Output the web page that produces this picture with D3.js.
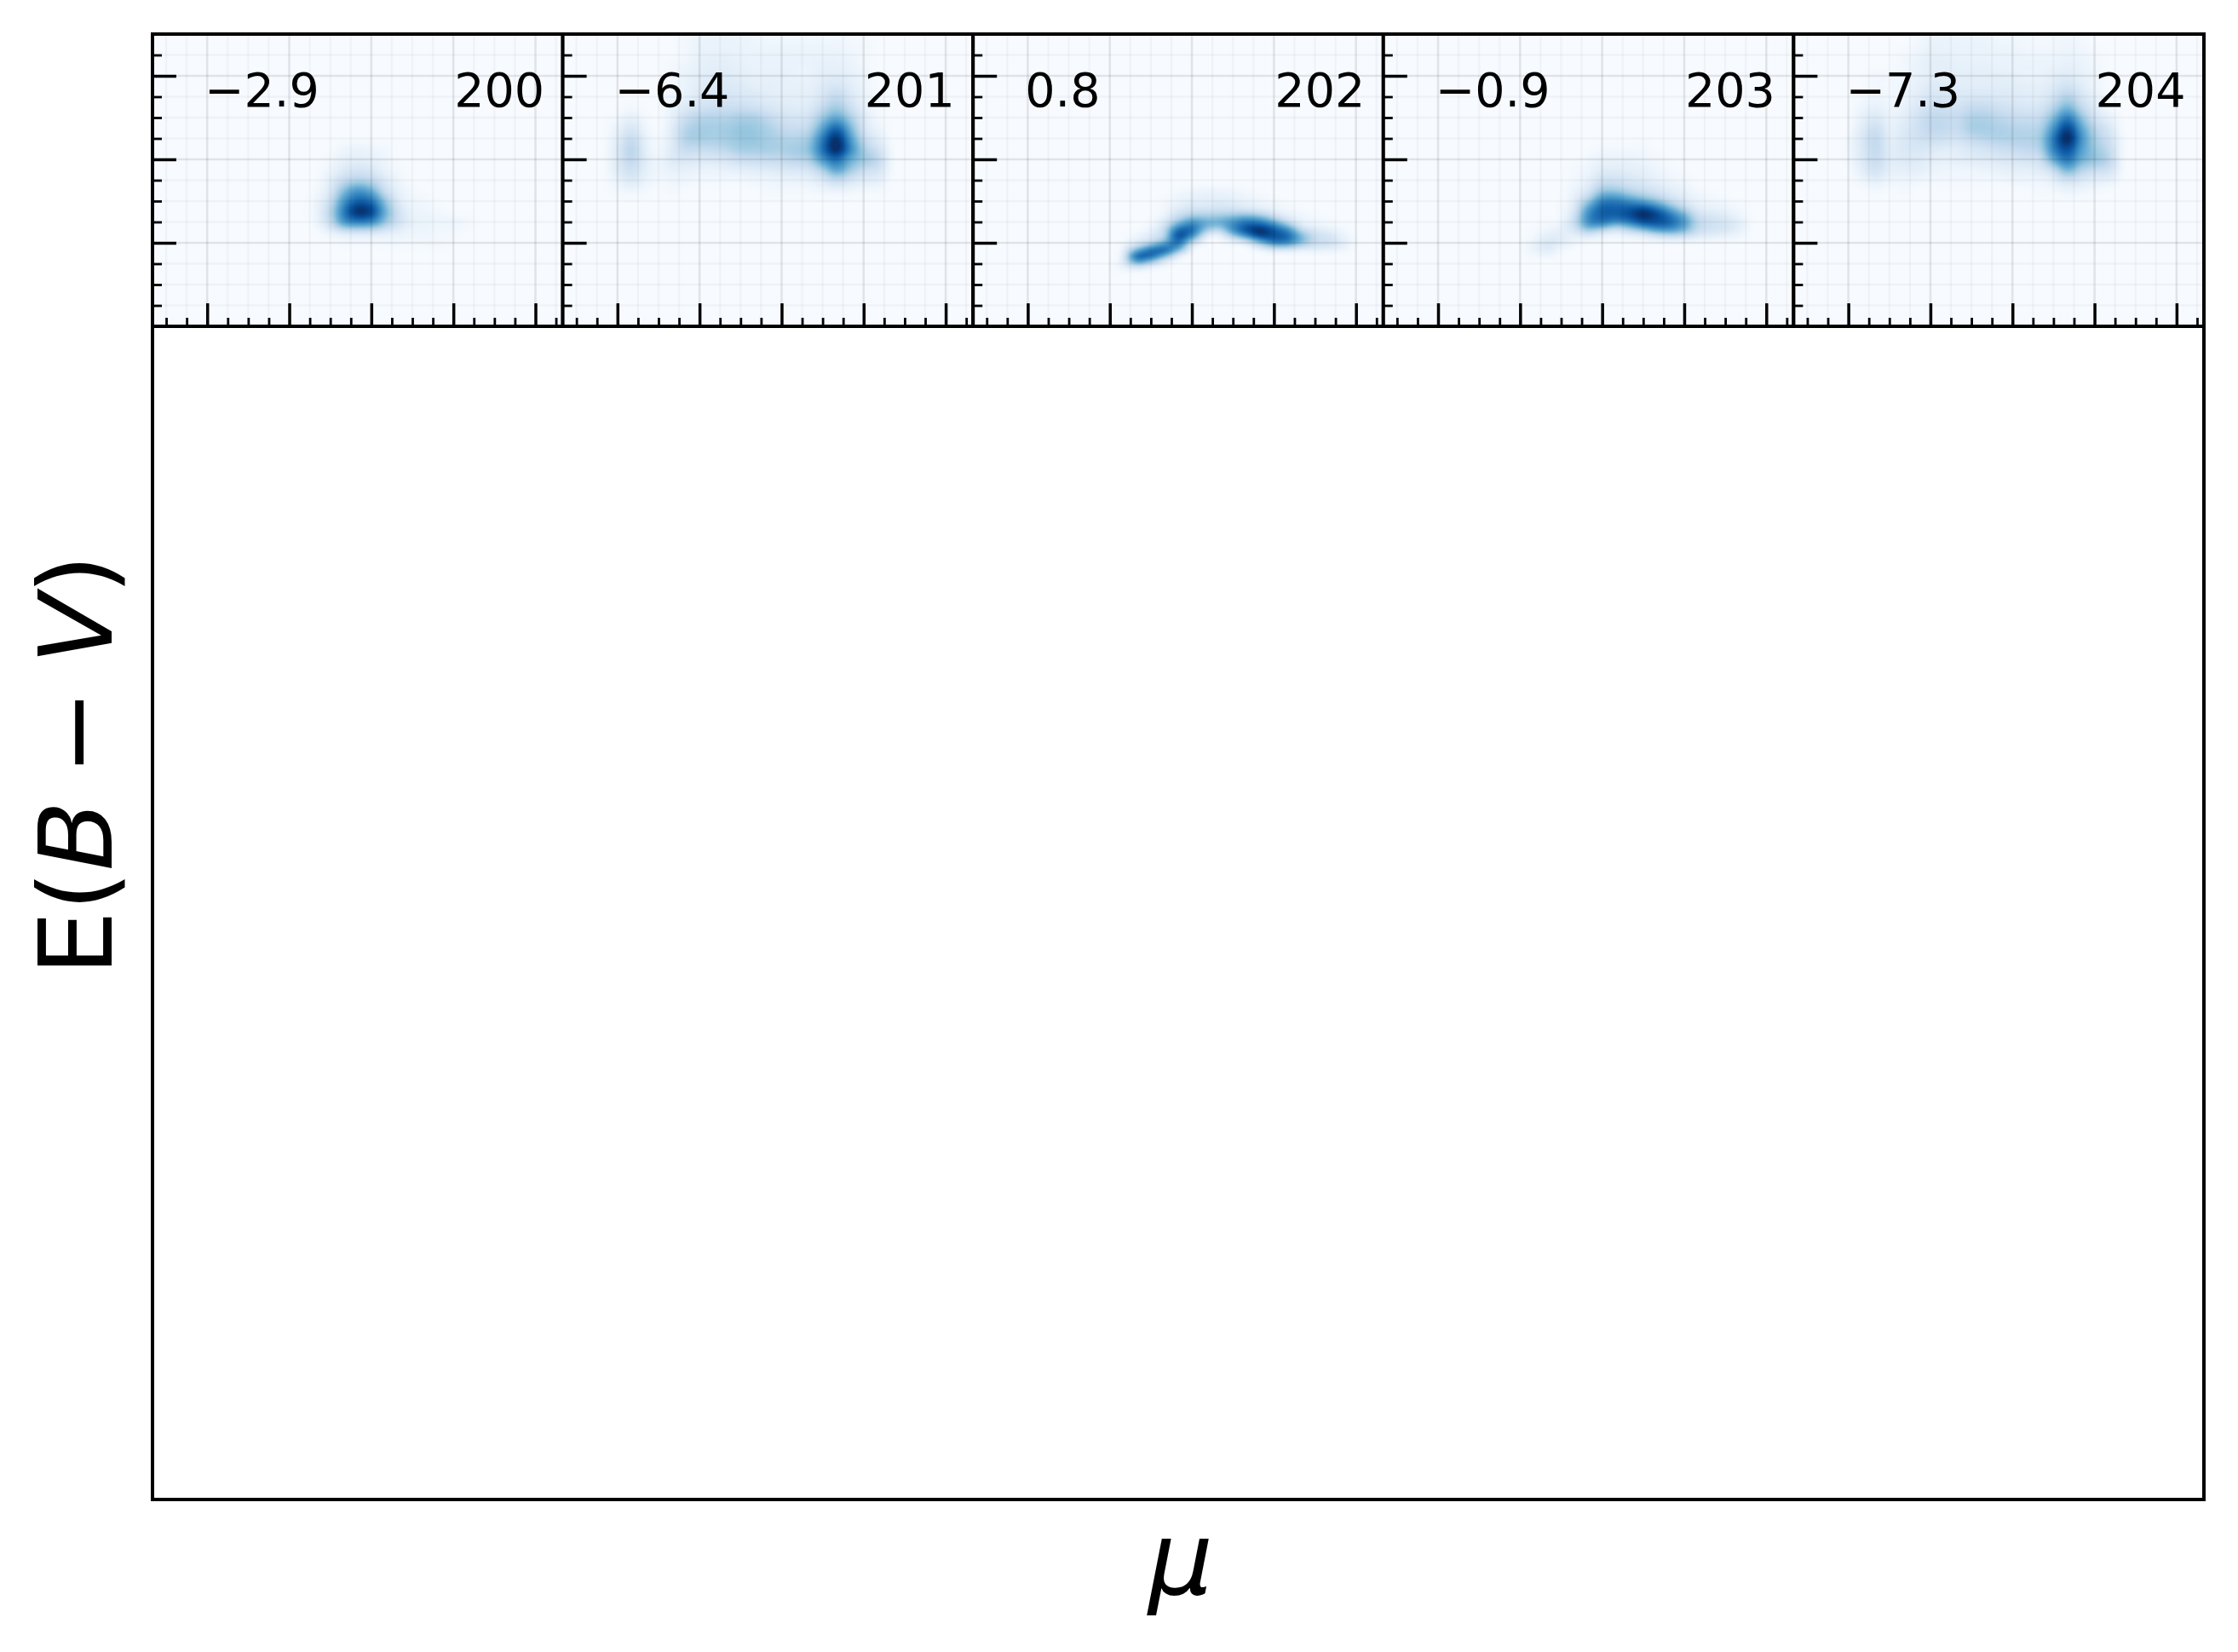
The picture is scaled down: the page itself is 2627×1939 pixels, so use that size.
<!DOCTYPE html>
<html>
<head>
<meta charset="utf-8">
<script src="https://cdn.jsdelivr.net/npm/d3@7"></script>
<style>html,body{margin:0;padding:0;background:#fff}svg{display:block}text{font-family:"DejaVu Sans";fill:#000}</style>
</head>
<body>
<svg id="chart" width="2627" height="1939"></svg>
<script>
// ---- data ----
const panelIds = ["200", "201", "202", "203", "204"];
const panelValues = ["\u22122.9", "\u22126.4", "0.8", "\u22120.9", "\u22127.3"];
const majorMu = [6, 9, 12, 15, 18];
const minorMu = [4.5, 5.25, 6.75, 7.5, 8.25, 9.75, 10.5, 11.25, 12.75, 13.5, 14.25, 15.75, 16.5, 17.25, 18.75];
const majorEbv = [2, 4, 6];
const minorEbv = [0.5, 1, 1.5, 2.5, 3, 3.5, 4.5, 5, 5.5, 6.5];

const mu200 = [10, 10.5, 11, 11.5, 12, 12.5, 13, 13.5, 14, 14.5, 15, 15.5];
const ebv200 = [4.25, 4, 3.75, 3.5, 3.25, 3, 2.75, 2.5, 2.25, 2];
const density200 = [
  [0, 0, 2, 3, 2, 1, 0, 0, 0, 0, 0, 0],
  [0, 1, 4, 5, 4, 2, 0, 0, 0, 0, 0, 0],
  [0, 2, 7, 10, 8, 3, 1, 0, 0, 0, 0, 0],
  [0, 5, 16, 22, 18, 8, 2, 0, 0, 0, 0, 0],
  [1, 8, 33, 50, 40, 14, 4, 1, 0, 0, 0, 0],
  [2, 14, 50, 72, 65, 30, 7, 2, 1, 0, 0, 0],
  [3, 20, 62, 95, 85, 40, 12, 3, 2, 1, 0, 0],
  [2, 16, 50, 60, 55, 30, 12, 4, 3, 2, 2, 1],
  [0, 3, 8, 10, 9, 6, 4, 2, 2, 1, 1, 0],
  [0, 0, 1, 1, 1, 1, 1, 1, 1, 1, 0, 0]
];

const mu201 = [5.5, 6, 6.5, 7, 7.5, 8, 8.5, 9, 9.5, 10, 10.5, 11, 11.5, 12, 12.5, 13, 13.5, 14, 14.5, 15, 15.5, 16];
const ebv201 = [7, 6.75, 6.5, 6.25, 6, 5.75, 5.5, 5.25, 5, 4.75, 4.5, 4.25, 4, 3.75, 3.5, 3.25];
const density201 = [
  [0, 0, 0, 0, 0, 0, 1, 2, 3, 3, 2, 2, 1, 1, 1, 1, 1, 1, 1, 0, 0, 0],
  [0, 0, 0, 0, 0, 0, 1, 3, 3, 3, 3, 2, 2, 2, 2, 2, 2, 2, 1, 1, 0, 0],
  [0, 0, 0, 0, 0, 0, 1, 3, 4, 4, 3, 3, 3, 3, 3, 3, 3, 3, 2, 1, 0, 0],
  [0, 0, 0, 0, 0, 1, 2, 4, 5, 5, 4, 3, 3, 3, 3, 3, 4, 4, 3, 1, 0, 0],
  [0, 0, 0, 0, 0, 1, 3, 5, 6, 6, 5, 4, 4, 4, 3, 3, 5, 6, 4, 2, 0, 0],
  [0, 0, 0, 0, 0, 1, 3, 6, 7, 8, 7, 5, 5, 4, 4, 4, 7, 10, 6, 2, 0, 0],
  [0, 0, 0, 0, 0, 2, 4, 8, 9, 10, 9, 8, 6, 5, 5, 5, 10, 17, 9, 3, 1, 0],
  [0, 0, 1, 0, 0, 3, 7, 11, 13, 14, 14, 12, 9, 7, 6, 7, 16, 26, 14, 4, 1, 0],
  [0, 1, 4, 1, 0, 4, 14, 20, 21, 21, 24, 23, 17, 12, 10, 12, 28, 42, 25, 7, 1, 0],
  [0, 3, 9, 2, 0, 6, 20, 25, 25, 26, 29, 28, 23, 17, 15, 18, 44, 70, 38, 10, 3, 0],
  [0, 5, 15, 4, 1, 7, 22, 25, 24, 26, 29, 29, 25, 22, 21, 27, 60, 94, 50, 17, 6, 0],
  [0, 7, 20, 5, 1, 7, 16, 16, 17, 20, 25, 26, 25, 24, 26, 32, 66, 100, 58, 25, 12, 1],
  [0, 7, 18, 6, 2, 7, 9, 8, 8, 10, 14, 15, 16, 17, 20, 24, 50, 68, 42, 28, 18, 1],
  [0, 6, 13, 5, 2, 4, 4, 3, 3, 4, 5, 6, 7, 8, 9, 11, 24, 45, 28, 15, 11, 1],
  [0, 3, 8, 3, 1, 2, 2, 1, 1, 1, 1, 2, 2, 3, 3, 4, 8, 16, 10, 6, 5, 0],
  [0, 1, 2, 1, 0, 1, 0, 0, 0, 0, 0, 0, 1, 1, 1, 1, 2, 3, 2, 1, 1, 0]
];

const mu202 = [9.5, 10, 10.5, 11, 11.5, 12, 12.5, 13, 13.5, 14, 14.5, 15, 15.5, 16, 16.5, 17, 17.5];
const ebv202 = [3.25, 3.125, 3, 2.875, 2.75, 2.625, 2.5, 2.375, 2.25, 2.125, 2, 1.875, 1.75, 1.625, 1.5, 1.375];
const density202 = [
  [0, 0, 0, 0, 1, 2, 3, 3, 2, 1, 0, 0, 0, 0, 0, 0, 0],
  [0, 0, 0, 0, 2, 3, 4, 4, 3, 2, 1, 0, 0, 0, 0, 0, 0],
  [0, 0, 0, 1, 3, 5, 5, 6, 5, 3, 2, 1, 0, 0, 0, 0, 0],
  [0, 0, 0, 1, 5, 8, 8, 10, 8, 6, 4, 2, 1, 0, 0, 0, 0],
  [0, 0, 0, 2, 9, 14, 14, 15, 16, 14, 10, 5, 2, 1, 0, 0, 0],
  [0, 0, 0, 4, 16, 28, 28, 30, 34, 40, 34, 16, 6, 2, 1, 0, 0],
  [0, 0, 1, 8, 30, 50, 40, 40, 52, 64, 60, 40, 16, 4, 2, 1, 0],
  [0, 0, 2, 14, 55, 66, 40, 32, 56, 78, 84, 68, 42, 10, 4, 2, 1],
  [0, 1, 5, 20, 76, 66, 20, 10, 46, 78, 100, 80, 64, 28, 12, 7, 2],
  [0, 3, 10, 22, 80, 46, 4, 1, 14, 38, 70, 78, 70, 38, 16, 11, 4],
  [1, 8, 18, 42, 62, 16, 0, 0, 2, 6, 32, 58, 56, 34, 16, 13, 6],
  [3, 24, 56, 68, 52, 3, 0, 0, 0, 0, 4, 14, 14, 8, 7, 6, 3],
  [6, 60, 74, 60, 14, 0, 0, 0, 0, 0, 0, 0, 0, 0, 0, 0, 0],
  [8, 70, 56, 16, 2, 0, 0, 0, 0, 0, 0, 0, 0, 0, 0, 0, 0],
  [6, 26, 12, 3, 0, 0, 0, 0, 0, 0, 0, 0, 0, 0, 0, 0, 0],
  [2, 4, 1, 0, 0, 0, 0, 0, 0, 0, 0, 0, 0, 0, 0, 0, 0]
];

const mu203 = [9.5, 10, 10.5, 11, 11.5, 12, 12.5, 13, 13.5, 14, 14.5, 15, 15.5, 16, 16.5, 17];
const ebv203 = [4.25, 4, 3.75, 3.5, 3.375, 3.25, 3.125, 3, 2.875, 2.75, 2.625, 2.5, 2.375, 2.25, 2.125, 2, 1.875, 1.75];
const density203 = [
  [0, 0, 0, 0, 0, 1, 1, 1, 1, 0, 0, 0, 0, 0, 0, 0],
  [0, 0, 0, 0, 1, 3, 3, 3, 2, 1, 0, 0, 0, 0, 0, 0],
  [0, 0, 0, 1, 2, 6, 6, 5, 4, 2, 1, 0, 0, 0, 0, 0],
  [0, 0, 0, 1, 4, 12, 12, 9, 7, 4, 2, 1, 0, 0, 0, 0],
  [0, 0, 0, 2, 6, 18, 18, 13, 10, 7, 4, 2, 0, 0, 0, 0],
  [0, 0, 0, 3, 9, 28, 28, 20, 15, 10, 6, 3, 1, 0, 0, 0],
  [0, 0, 0, 4, 16, 42, 44, 34, 25, 17, 9, 5, 2, 1, 0, 0],
  [0, 0, 0, 6, 28, 58, 60, 52, 44, 32, 17, 8, 3, 2, 1, 0],
  [0, 0, 1, 8, 42, 70, 72, 72, 70, 54, 32, 14, 5, 3, 2, 1],
  [0, 0, 1, 10, 52, 74, 74, 80, 94, 78, 52, 28, 9, 6, 4, 1],
  [0, 0, 1, 14, 56, 72, 72, 82, 96, 86, 66, 42, 15, 10, 7, 3],
  [0, 1, 2, 16, 54, 64, 54, 62, 78, 78, 70, 48, 19, 13, 10, 5],
  [0, 1, 4, 13, 40, 36, 22, 34, 52, 64, 60, 42, 18, 12, 10, 5],
  [1, 3, 5, 7, 16, 8, 5, 10, 16, 30, 36, 28, 13, 9, 7, 3],
  [1, 6, 6, 3, 4, 2, 1, 2, 3, 6, 8, 7, 4, 3, 2, 1],
  [3, 8, 5, 2, 0, 0, 0, 0, 0, 0, 0, 0, 0, 0, 0, 0],
  [3, 7, 2, 0, 0, 0, 0, 0, 0, 0, 0, 0, 0, 0, 0, 0],
  [2, 4, 0, 0, 0, 0, 0, 0, 0, 0, 0, 0, 0, 0, 0, 0]
];

const mu204 = [5.5, 6, 6.5, 7, 7.5, 8, 8.5, 9, 9.5, 10, 10.5, 11, 11.5, 12, 12.5, 13, 13.5, 14, 14.5, 15, 15.5, 16];
const ebv204 = [7, 6.75, 6.5, 6.25, 6, 5.75, 5.5, 5.25, 5, 4.75, 4.5, 4.25, 4, 3.75, 3.5, 3.25];
const density204 = [
  [0, 0, 0, 0, 0, 0, 1, 2, 3, 2, 2, 2, 1, 1, 1, 1, 1, 1, 1, 0, 0, 0],
  [0, 0, 0, 0, 0, 0, 1, 3, 3, 3, 3, 3, 2, 2, 1, 1, 1, 2, 1, 0, 0, 0],
  [0, 0, 0, 0, 0, 1, 2, 4, 4, 3, 3, 3, 3, 3, 2, 2, 2, 3, 2, 1, 0, 0],
  [0, 0, 0, 0, 0, 1, 3, 5, 5, 4, 4, 4, 3, 3, 3, 3, 3, 4, 3, 1, 0, 0],
  [0, 0, 0, 1, 1, 1, 3, 5, 5, 5, 5, 5, 5, 4, 3, 3, 5, 7, 4, 2, 0, 0],
  [0, 0, 0, 1, 1, 2, 4, 7, 7, 6, 6, 6, 6, 6, 5, 5, 7, 12, 6, 2, 0, 0],
  [0, 0, 1, 2, 1, 2, 6, 9, 9, 8, 9, 9, 8, 7, 6, 6, 12, 22, 11, 4, 1, 0],
  [0, 0, 2, 4, 2, 3, 8, 13, 13, 12, 16, 16, 13, 11, 9, 10, 20, 36, 18, 6, 1, 0],
  [0, 0, 4, 8, 3, 5, 11, 17, 17, 16, 22, 22, 19, 16, 15, 16, 34, 60, 32, 11, 4, 0],
  [0, 0, 6, 13, 4, 7, 12, 18, 17, 16, 24, 25, 23, 21, 20, 22, 50, 85, 46, 20, 9, 0],
  [0, 1, 8, 17, 5, 8, 12, 14, 13, 12, 17, 20, 22, 22, 22, 26, 62, 100, 54, 25, 13, 1],
  [0, 1, 8, 17, 6, 8, 9, 8, 6, 6, 9, 11, 14, 16, 18, 22, 58, 82, 48, 28, 17, 1],
  [0, 1, 7, 15, 6, 7, 7, 5, 4, 5, 6, 7, 8, 9, 11, 13, 42, 65, 40, 30, 20, 1],
  [0, 0, 5, 12, 5, 5, 5, 3, 2, 2, 2, 3, 4, 5, 5, 7, 16, 38, 22, 15, 12, 1],
  [0, 0, 2, 5, 2, 2, 2, 1, 1, 1, 1, 1, 1, 2, 2, 2, 5, 12, 8, 5, 4, 0],
  [0, 0, 0, 1, 0, 1, 0, 0, 0, 0, 0, 0, 0, 0, 0, 1, 1, 3, 2, 1, 0, 0]
];

const grids = [
  {mu: mu200, ebv: ebv200, z: density200},
  {mu: mu201, ebv: ebv201, z: density201},
  {mu: mu202, ebv: ebv202, z: density202},
  {mu: mu203, ebv: ebv203, z: density203},
  {mu: mu204, ebv: ebv204, z: density204}
];

// ---- layout ----
const frameL = 179, frameR = 2587, frameT = 40, frameM = 383, frameB = 1760;
const spineW = 4, majorW = 3.5, minorW = 2.8;
const svg = d3.select("#chart");

const panelBand = d3.scaleBand().domain(panelIds).range([frameL, frameR]);
const pw = panelBand.bandwidth(), ph = frameM - frameT;
const x = d3.scaleLinear().domain([4, 19]).range([0, pw]);
const y = d3.scaleLinear().domain([0, 7]).range([ph, 0]);
const color = d3.scaleLinear().domain(d3.range(9).map(i => i * 12.5)).range(d3.schemeBlues[9]).clamp(true);
const norm = d3.scalePow().exponent(0.8).domain([0, 94]).range([0, 100]).clamp(true);

function catmull(p0, p1, p2, p3, t) {
  return 0.5 * (2 * p1 + (p2 - p0) * t + (2 * p0 - 5 * p1 + 4 * p2 - p3) * t * t + (3 * p1 - p0 - 3 * p2 + p3) * t * t * t);
}
function sampler(g) {
  const xi = d3.scaleLinear().domain(g.mu).range(g.mu.map((_, i) => i));
  const yi = d3.scaleLinear().domain(g.ebv).range(g.ebv.map((_, i) => i));
  const at = (r, c) => (r < 0 || c < 0 || r >= g.z.length || c >= g.z[0].length) ? 0 : g.z[r][c];
  const m0 = g.mu[0] - (g.mu[1] - g.mu[0]), m1 = g.mu[g.mu.length - 1] + (g.mu[1] - g.mu[0]);
  const e1 = g.ebv[0] + (g.ebv[0] - g.ebv[1]), e0 = g.ebv[g.ebv.length - 1] - (g.ebv[0] - g.ebv[1]);
  return (m, e) => {
    if (m <= m0 || m >= m1 || e <= e0 || e >= e1) return 0;
    const fx = xi(m), fy = yi(e), c = Math.floor(fx), r = Math.floor(fy), tx = fx - c, ty = fy - r;
    const rows = [-1, 0, 1, 2].map(dr => catmull(at(r + dr, c - 1), at(r + dr, c), at(r + dr, c + 1), at(r + dr, c + 2), tx));
    return Math.max(0, catmull(rows[0], rows[1], rows[2], rows[3], ty));
  };
}
// small pixel kernel that softens the coarse grid the way the reference's resampling does
const kernelOffsets = [-4, 0, 4];
function densityImage(g) {
  const w = Math.round(pw), h = Math.round(ph);
  const cv = document.createElement("canvas");
  cv.width = w; cv.height = h;
  const ctx = cv.getContext("2d"), img = ctx.createImageData(w, h), f = sampler(g);
  for (let j = 0; j < h; j++) for (let i = 0; i < w; i++) {
    let sum = 0;
    for (const dx of kernelOffsets) for (const dy of kernelOffsets)
      sum += f(x.invert((i + 0.5 + dx) * pw / w), y.invert((j + 0.5 + dy) * ph / h));
    const c = d3.rgb(color(norm(sum / 9)));
    const k = 4 * (j * w + i);
    img.data[k] = c.r; img.data[k + 1] = c.g; img.data[k + 2] = c.b; img.data[k + 3] = 255;
  }
  ctx.putImageData(img, 0, 0);
  return cv.toDataURL();
}

const panels = svg.selectAll("g.panel").data(panelIds).join("g")
  .attr("class", "panel")
  .attr("transform", d => `translate(${panelBand(d)},${frameT})`);

panels.append("image")
  .attr("width", pw).attr("height", ph).attr("preserveAspectRatio", "none")
  .attr("href", (d, i) => densityImage(grids[i]));

function gridLines(sel, xs, ys, width, opacity) {
  sel.selectAll(null).data(xs).join("line")
    .attr("x1", d => x(d)).attr("x2", d => x(d)).attr("y1", 0).attr("y2", ph)
    .attr("stroke", "#000").attr("stroke-width", width).attr("stroke-opacity", opacity);
  sel.selectAll(null).data(ys).join("line")
    .attr("x1", 0).attr("x2", pw).attr("y1", d => y(d)).attr("y2", d => y(d))
    .attr("stroke", "#000").attr("stroke-width", width).attr("stroke-opacity", opacity);
}
panels.each(function () {
  const g = d3.select(this);
  gridLines(g.append("g"), minorMu, minorEbv, 2.4, 0.03);
  gridLines(g.append("g"), majorMu, majorEbv, 2.6, 0.09);
});

function styleAxis(sel, w) {
  sel.select(".domain").remove();
  sel.selectAll("text").remove();
  sel.selectAll("line").attr("stroke", "#000").attr("stroke-width", w);
}
panels.append("g").attr("transform", `translate(0,${ph})`)
  .call(d3.axisBottom(x).tickValues(minorMu).tickSize(-10).tickSizeOuter(0)).call(styleAxis, minorW);
panels.append("g").attr("transform", `translate(0,${ph})`)
  .call(d3.axisBottom(x).tickValues(majorMu).tickSize(-27).tickSizeOuter(0)).call(styleAxis, majorW);
panels.append("g")
  .call(d3.axisLeft(y).tickValues(minorEbv).tickSize(-11).tickSizeOuter(0)).call(styleAxis, minorW);
panels.append("g")
  .call(d3.axisLeft(y).tickValues(majorEbv).tickSize(-28).tickSizeOuter(0)).call(styleAxis, majorW);

panels.append("rect")
  .attr("width", pw).attr("height", ph).attr("fill", "none")
  .attr("stroke", "#000").attr("stroke-width", spineW);

panels.append("text").attr("x", 61).attr("y", 85).attr("font-size", 55.5)
  .text((d, i) => panelValues[i]);
panels.append("text").attr("x", pw - 21.5).attr("y", 85).attr("font-size", 55.5)
  .attr("text-anchor", "end").text(d => d);

// large empty frame
svg.append("rect")
  .attr("x", frameL).attr("y", frameM).attr("width", frameR - frameL).attr("height", frameB - frameM)
  .attr("fill", "none").attr("stroke", "#000").attr("stroke-width", spineW);

// axis labels
svg.append("text").attr("x", (frameL + frameR) / 2 + 3).attr("y", 1871)
  .attr("text-anchor", "middle").attr("font-size", 120).attr("font-style", "italic").text("\u03bc");

const yl = svg.append("text").attr("transform", "translate(131,1145) rotate(-90)").attr("font-size", 120);
yl.append("tspan").text("E(");
yl.append("tspan").attr("font-style", "italic").text("B");
yl.append("tspan").attr("dx", 30).text("\u2212");
yl.append("tspan").attr("dx", 30).attr("font-style", "italic").text("V");
yl.append("tspan").text(")");
</script>
</body>
</html>
